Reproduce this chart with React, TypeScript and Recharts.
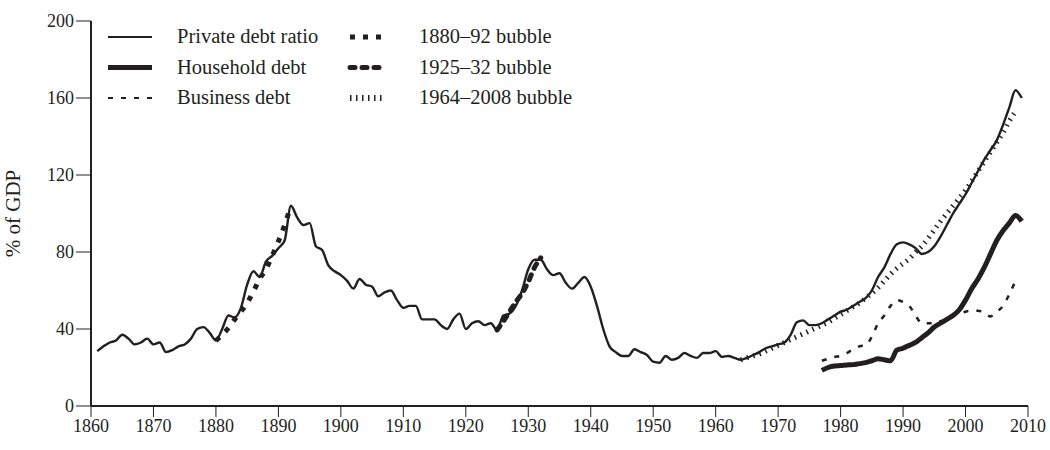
import { LineChart, Line, XAxis, YAxis } from "recharts";

const INK = "#231f20";
const FONT = "'Liberation Serif', 'Times New Roman', serif";

// private debt ratio, 1861–2009
const privateStart = 1861;
const privateDebt = [
  28.5, 31, 33, 34, 37, 35, 32, 33, 35, 32, 33, 28, 29, 31, 32, 35, 40, 41, 38,
  34, 40, 47, 46, 51, 63, 70, 67, 75, 78, 82, 86, 104, 98, 94, 95, 83, 81, 73,
  70, 68, 65, 61, 66, 63, 62, 57, 59, 60, 55, 51, 52, 52, 45, 45, 45, 42, 40,
  45, 48, 40, 43, 44, 42, 43, 39.5, 47, 48, 52, 60, 71, 76, 76, 71, 68, 69, 64,
  61, 64, 67, 62, 52, 40, 31, 28, 26, 26, 29.5, 28, 26.5, 23, 22.5, 26, 24, 25,
  27.5, 26, 25, 27.5, 27.5, 28.5, 25.5, 26, 25, 24, 25, 26.5, 28, 30, 31, 32,
  33, 37, 43.5, 44.5, 42, 42, 43, 45, 47, 49, 50, 52, 54, 56, 60, 67, 72, 79,
  84, 85, 84, 82, 79, 80, 83, 88, 94, 100, 105, 110, 116, 122, 128, 133, 138,
  146, 155, 164, 160,
];

// household debt, 1977–2009
const householdStart = 1977;
const householdDebt = [
  18.5, 20, 20.8, 21, 21.3, 21.5, 22, 22.5, 23.5, 24.5, 24, 23.5, 29, 30, 31.5,
  33, 35.5, 38, 41, 43, 45, 47, 50, 55, 61, 66, 72, 79, 86, 91, 95, 99, 96,
];

// business debt, 1977–2008
const businessStart = 1977;
const businessDebt = [
  23.5, 24.5, 25.5, 26, 27.5, 29.5, 31, 31.5, 36, 43, 47, 52, 55, 54, 52, 47,
  43, 43, 43, 44, 45, 47, 48, 49, 49.5, 49.5, 48.5, 46.5, 49, 52, 58, 65,
];

// bubbles
const bubble1880Start = 1880;
const bubble1880 = [34, 37, 40.5, 45, 49, 53.5, 59.5, 66, 71, 78, 85.5, 94, 104];

const bubble1925Start = 1925;
const bubble1925 = [39.5, 44, 49, 54, 58.5, 64.5, 72, 77];

const bubble1964Start = 1964;
const bubble1964 = [
  24, 25, 26, 27, 28.5, 30, 31.5, 33, 34.5, 36, 37.5, 39, 40.5, 42, 43.5, 45.5,
  47.5, 49.5, 51.5, 53.5, 56, 58.5, 61.5, 65, 68.5, 71.5, 74, 76.5, 80, 83, 87,
  91.5, 96, 100, 104, 108, 112, 117, 122, 127, 132, 137, 142, 148, 153,
];

const xTicks = [1860, 1870, 1880, 1890, 1900, 1910, 1920, 1930, 1940, 1950, 1960, 1970, 1980, 1990, 2000, 2010];
const yTicks = [0, 40, 80, 120, 160, 200];

const seriesList = [
  { key: "privateDebt", start: privateStart, values: privateDebt },
  { key: "household", start: householdStart, values: householdDebt },
  { key: "business", start: businessStart, values: businessDebt },
  { key: "b1880", start: bubble1880Start, values: bubble1880 },
  { key: "b1925", start: bubble1925Start, values: bubble1925 },
  { key: "b1964", start: bubble1964Start, values: bubble1964 },
];

const rows: Record<string, number>[] = [];
for (let y = 1861; y <= 2009; y++) {
  const row: Record<string, number> = { year: y };
  seriesList.forEach((s) => {
    const i = y - s.start;
    if (i >= 0 && i < s.values.length) row[s.key] = s.values[i];
  });
  rows.push(row);
}

const legendItems = [
  { label: "Private debt ratio", width: 2, dash: undefined as string | undefined, cap: "butt", col: 0, row: 0 },
  { label: "Household debt", width: 5, dash: undefined, cap: "butt", col: 0, row: 1 },
  { label: "Business debt", width: 2, dash: "5 8", cap: "butt", col: 0, row: 2 },
  { label: "1880–92 bubble", width: 5, dash: "5 8", cap: "butt", col: 1, row: 0 },
  { label: "1925–32 bubble", width: 5, dash: "5 7", cap: "round", col: 1, row: 1 },
  { label: "1964–2008 bubble", width: 6, dash: "1.5 4.5", cap: "butt", col: 1, row: 2 },
];

function LegendBox() {
  return (
    <svg width={520} height={100} style={{ position: "absolute", left: 91, top: 21 }}>
      {legendItems.map((it) => {
        const x0 = it.col === 0 ? 17 : 259;
        const w = it.col === 0 ? 44 : 36;
        const y0 = 16 + it.row * 30.5;
        return (
          <g key={it.label}>
            <line
              x1={x0}
              x2={x0 + w}
              y1={y0}
              y2={y0}
              stroke={INK}
              strokeWidth={it.width}
              strokeDasharray={it.dash}
              strokeLinecap={it.cap as "butt" | "round"}
            />
            <text x={x0 + 69} y={y0 + 6} fontSize={20.5} fontFamily={FONT} fill={INK}>
              {it.label}
            </text>
          </g>
        );
      })}
    </svg>
  );
}

export default function App() {
  return (
    <div style={{ width: 1050, height: 450, background: "#fff", position: "relative" }}>
      <style>{`body{margin:0}`}</style>
      <LineChart
        width={1050}
        height={450}
        data={rows}
        margin={{ top: 21, right: 22, left: 0, bottom: 0 }}
      >
        <XAxis
          dataKey="year"
          type="number"
          domain={[1860, 2010]}
          ticks={xTicks}
          interval={0}
          height={44}
          tickSize={11}
          tick={{ fontSize: 18, fill: INK, fontFamily: FONT }}
          axisLine={{ stroke: INK, strokeWidth: 2 }}
          tickLine={{ stroke: INK, strokeWidth: 1 }}
        />
        <YAxis
          type="number"
          domain={[0, 200]}
          ticks={yTicks}
          interval={0}
          width={91}
          tickSize={15}
          tick={{ fontSize: 18, fill: INK, fontFamily: FONT }}
          axisLine={{ stroke: INK, strokeWidth: 2 }}
          tickLine={{ stroke: INK, strokeWidth: 1 }}
          label={{
            value: "% of GDP",
            angle: -90,
            position: "insideLeft",
            offset: 13,
            style: { fontSize: 21, fill: INK, fontFamily: FONT, textAnchor: "middle" },
          }}
        />
        <Line dataKey="b1880" type="monotone" stroke={INK} strokeWidth={5} strokeDasharray="5 8" dot={false} isAnimationActive={false} />
        <Line dataKey="b1925" type="monotone" stroke={INK} strokeWidth={5} strokeDasharray="5 7" strokeLinecap="round" dot={false} isAnimationActive={false} />
        <Line dataKey="b1964" type="monotone" stroke={INK} strokeWidth={5} strokeDasharray="1.5 5" dot={false} isAnimationActive={false} />
        <Line dataKey="business" type="monotone" stroke={INK} strokeWidth={2.5} strokeDasharray="5 8" dot={false} isAnimationActive={false} />
        <Line dataKey="household" type="monotone" stroke={INK} strokeWidth={5} dot={false} isAnimationActive={false} />
        <Line dataKey="privateDebt" type="monotone" stroke={INK} strokeWidth={2.4} dot={false} isAnimationActive={false} />
      </LineChart>
      <LegendBox />
    </div>
  );
}
